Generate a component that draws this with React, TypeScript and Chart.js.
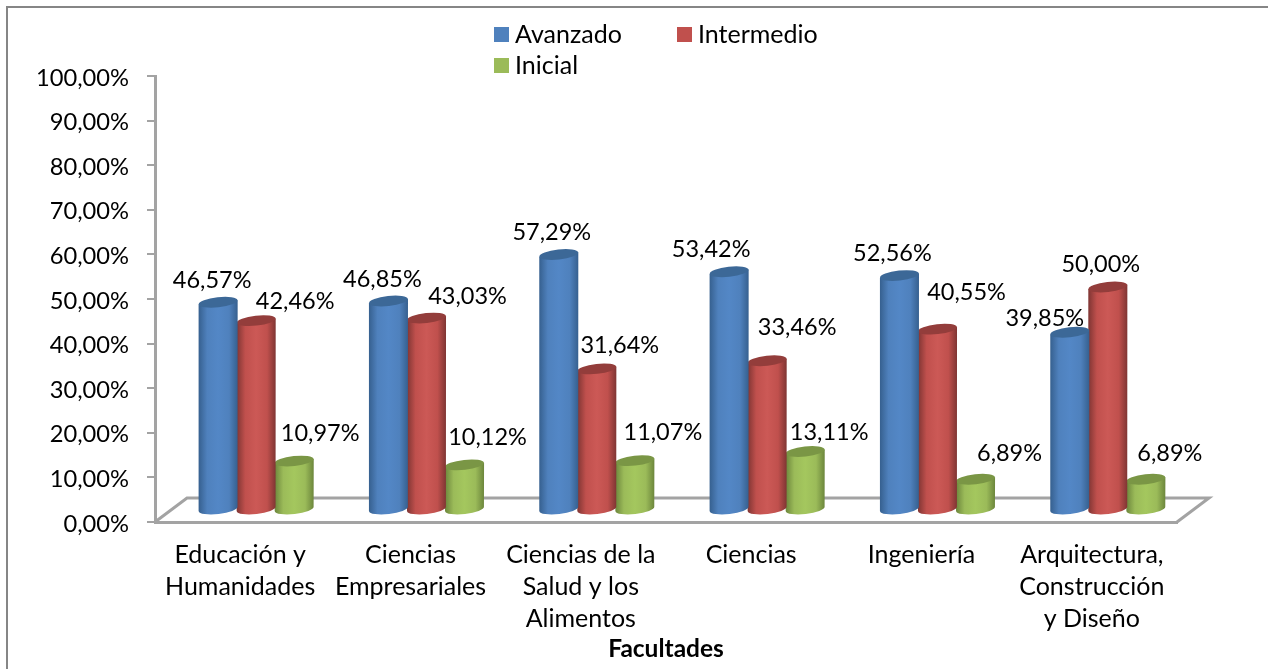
import React, { useEffect, useRef } from "react";
import { Chart, registerables } from "chart.js";

Chart.register(...registerables);

const categories = [
  ["Educación y", "Humanidades"],
  ["Ciencias", "Empresariales"],
  ["Ciencias de la", "Salud y los", "Alimentos"],
  ["Ciencias"],
  ["Ingeniería"],
  ["Arquitectura,", "Construcción", "y Diseño"],
];
const avanzado = [46.57, 46.85, 57.29, 53.42, 52.56, 39.85];
const intermedio = [42.46, 43.03, 31.64, 33.46, 40.55, 50.0];
const inicial = [10.97, 10.12, 11.07, 13.11, 6.89, 6.89];

const FONT = "Lato, Carlito, Calibri, sans-serif";
const GREY = "#A3A3A3";
const DEPTH_X = 32;
const DEPTH_Y = 24;
const BAR_DX = 16;
const BAR_DY = -12;

// hand-placed data-label nudges (dx, dy from each bar's top centre), per series
const labelNudges = [
  [[-6, -22], [-6, -22], [-7, -22], [-18, -22], [-7, -22], [-25, -14]],
  [[39, -19], [41, -22], [23, -23], [30, -33], [29, -37], [-7, -23]],
  [[26, -28], [23, -27], [28, -28], [24, -19], [34, -26], [24, -26]],
];

const skins = [
  { base: "#4F81BD", light: "#5387C6", dark: "#36608F", top: "#3C6897" },
  { base: "#C0504D", light: "#CC5956", dark: "#7F3533", top: "#933D3B" },
  { base: "#9BBB59", light: "#A4C75E", dark: "#6C863C", top: "#7A9645" },
];

const fmt = (v: number) => v.toFixed(2).replace(".", ",") + "%";

const cylinder3d = {
  id: "cylinder3d",
  beforeDraw(chart: any) {
    const { ctx, width, height, chartArea: a } = chart;
    // the reference's axis labels sit slightly below their ticks
    chart.scales.y.getLabelItems().forEach((item: any) => {
      item.options.translation = [item.options.translation[0], item.options.translation[1] + 2];
    });
    ctx.save();
    ctx.fillStyle = "#fff";
    ctx.fillRect(0, 0, width, height);
    // outer frame
    ctx.strokeStyle = "#868686";
    ctx.lineWidth = 2;
    ctx.beginPath();
    ctx.moveTo(7, height);
    ctx.lineTo(7, 7);
    ctx.lineTo(width, 7);
    ctx.stroke();
    // floor
    ctx.strokeStyle = GREY;
    ctx.lineWidth = 3;
    ctx.beginPath();
    ctx.moveTo(a.left, a.bottom);
    ctx.lineTo(a.left + DEPTH_X, a.bottom - DEPTH_Y);
    ctx.lineTo(a.right + DEPTH_X, a.bottom - DEPTH_Y);
    ctx.lineTo(a.right, a.bottom);
    ctx.stroke();
    ctx.restore();
  },
  beforeDatasetDraw(chart: any, args: any) {
    const { ctx } = chart;
    const skin = skins[args.index];
    const rot = -0.11;
    const ry = 5;
    ctx.save();
    args.meta.data.forEach((bar: any) => {
      const rx = (bar.width + 1) / 2;
      const cx = bar.x + BAR_DX;
      const top = bar.y + BAR_DY;
      const base = bar.base + BAR_DY;
      const tilt = rx * Math.sin(rot);
      const g = ctx.createLinearGradient(cx - rx, 0, cx + rx, 0);
      g.addColorStop(0, skin.dark);
      g.addColorStop(0.22, skin.base);
      g.addColorStop(0.5, skin.light);
      g.addColorStop(0.78, skin.base);
      g.addColorStop(1, skin.dark);
      ctx.fillStyle = g;
      ctx.beginPath();
      ctx.moveTo(cx - rx, top - tilt);
      ctx.lineTo(cx - rx, base - tilt);
      ctx.ellipse(cx, base, rx, ry, rot, Math.PI, 0, true);
      ctx.lineTo(cx + rx, top + tilt);
      ctx.lineTo(cx - rx, top - tilt);
      ctx.closePath();
      ctx.fill();
      ctx.fillStyle = skin.top;
      ctx.beginPath();
      ctx.ellipse(cx, top, rx, ry, rot, 0, Math.PI * 2);
      ctx.fill();
    });
    ctx.restore();
    return false;
  },
  afterDatasetsDraw(chart: any) {
    const { ctx, data } = chart;
    ctx.save();
    ctx.fillStyle = "#000";
    ctx.font = `23.5px ${FONT}`;
    ctx.textAlign = "center";
    ctx.textBaseline = "middle";
    data.datasets.forEach((ds: any, i: number) => {
      chart.getDatasetMeta(i).data.forEach((bar: any, j: number) => {
        const [dx, dy] = labelNudges[i][j];
        ctx.fillText(fmt(ds.data[j]), bar.x + BAR_DX + dx, bar.y + BAR_DY + dy);
      });
    });
    // legend
    const slots = [
      [494, 27],
      [677, 27],
      [494, 58],
    ];
    ctx.textAlign = "left";
    ctx.font = `25px ${FONT}`;
    data.datasets.forEach((ds: any, i: number) => {
      const [x, y] = slots[i];
      ctx.fillStyle = ds.backgroundColor;
      ctx.fillRect(x, y, 15, 15);
      ctx.fillStyle = "#000";
      ctx.fillText(ds.label, x + 21, y + 7.5);
    });
    ctx.restore();
  },
};

export default function App() {
  const ref = useRef<HTMLCanvasElement>(null);
  useEffect(() => {
    const chart = new Chart(ref.current!, {
      type: "bar",
      data: {
        labels: categories as any,
        datasets: [
          { label: "Avanzado", data: avanzado, backgroundColor: skins[0].base },
          { label: "Intermedio", data: intermedio, backgroundColor: skins[1].base },
          { label: "Inicial", data: inicial, backgroundColor: skins[2].base },
        ],
      },
      options: {
        responsive: false,
        animation: false,
        layout: { padding: { top: 76, right: 91, left: 0, bottom: 0 } },
        plugins: { legend: { display: false }, tooltip: { enabled: false } },
        datasets: { bar: { barPercentage: 1, categoryPercentage: 0.67 } },
        scales: {
          x: {
            afterFit(axis: any) {
              axis.height = 147;
            },
            grid: { drawOnChartArea: false, drawTicks: false },
            border: { color: GREY, width: 3 },
            ticks: {
              autoSkip: false,
              maxRotation: 0,
              padding: 17,
              color: "#000",
              font: { family: FONT, size: 25, lineHeight: 32 / 25 },
            },
            title: {
              display: true,
              text: "Facultades",
              color: "#000",
              font: { family: FONT, size: 24.5, weight: "bold" },
              padding: { top: 0, bottom: 5 },
            },
          },
          y: {
            min: 0,
            max: 100,
            afterFit(axis: any) {
              axis.width = 155;
            },
            grid: { drawOnChartArea: false, color: GREY, lineWidth: 2, tickLength: 8 },
            border: { color: GREY, width: 3 },
            ticks: {
              stepSize: 10,
              padding: 18,
              color: "#000",
              font: { family: FONT, size: 23.7 },
              callback: (v: any) => fmt(Number(v)),
            },
          },
        },
      },
      plugins: [cylinder3d],
    } as any);
    return () => chart.destroy();
  }, []);
  return (
    <canvas
      ref={ref}
      width={1268}
      height={669}
      style={{ position: "fixed", left: 0, top: 0, width: 1268, height: 669 }}
    />
  );
}
